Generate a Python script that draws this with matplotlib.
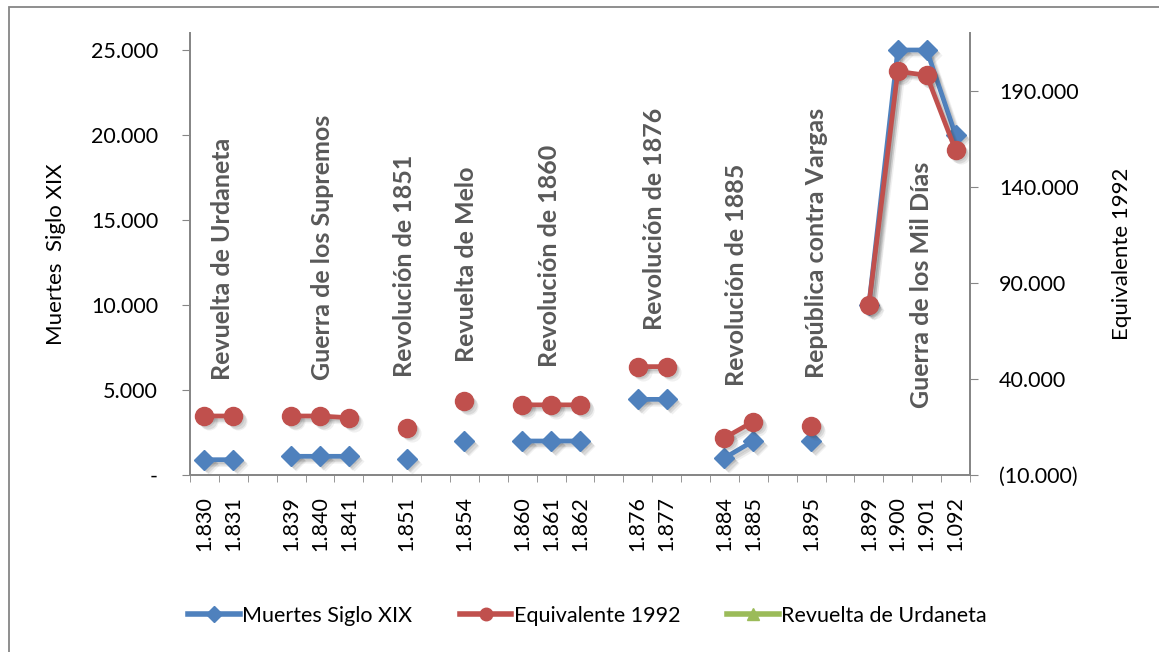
import numpy as np
import matplotlib
matplotlib.use("Agg")
import matplotlib.pyplot as plt
from matplotlib.lines import Line2D
from matplotlib.patches import Rectangle
from matplotlib.transforms import offset_copy
from matplotlib.ticker import FuncFormatter, FixedLocator

# categories ("" = empty slot between wars)
years = ["1.830", "1.831", "", "1.839", "1.840", "1.841", "", "1.851", "", "1.854", "",
         "1.860", "1.861", "1.862", "", "1.876", "1.877", "", "1.884", "1.885", "",
         "1.895", "", "1.899", "1.900", "1.901", "1.092"]

nan = np.nan
muertes = [900, 900, nan, 1100, 1100, 1100, nan, 950, nan, 2000, nan,
           2000, 2000, 2000, nan, 4450, 4450, nan, 1000, 2000, nan,
           2000, nan, 10000, 25000, 25000, 20000]
equivalente = [20700, 20700, nan, 20700, 20700, 19800, nan, 14600, nan, 28500, nan,
               26500, 26500, 26500, nan, 46400, 46400, nan, 9300, 17800, nan,
               15500, nan, 78500, 200000, 198000, 159000]

guerras = ["Revuelta de Urdaneta", "Guerra de los Supremos", "Revolución de 1851",
           "Revuelta de Melo", "Revolución de 1860", "Revolución de 1876",
           "Revolución de 1885", "República contra Vargas", "Guerra de los Mil Días"]
# where each war name sits (category position, left-axis value of its base)
guerra_x = [0.64, 4.07, 6.94, 9.08, 11.96, 15.59, 18.43, 21.2, 24.83]
guerra_y = [5590, 5590, 5760, 6650, 6350, 8530, 5240, 5710, 3940]

AZUL = "#4F81BD"
ROJO = "#C0504D"
VERDE = "#9BBB59"
GRIS = "#868686"
TEXTO = "#595959"

plt.rcParams["font.family"] = ["Lato", "DejaVu Sans"]

fig = plt.figure(figsize=(11.59, 6.52), dpi=100)
W, H = 1159, 652
ax = fig.add_axes([190 / W, 1 - 475 / H, 780 / W, 442 / H])
ax2 = ax.twinx()

x = np.arange(len(years))


def con_sombra(eje, y, color, marker, ms):
    # soft drop shadow: a few offset gray copies under the series
    for d, a in [(2, 0.12), (3.5, 0.12), (5, 0.08)]:
        tr = offset_copy(eje.transData, fig=fig, x=d, y=-d, units="dots")
        eje.plot(x, y, color="#404040", alpha=a, lw=3.4, marker=marker, ms=ms,
                 mec="none", transform=tr, zorder=1)
    eje.plot(x, y, color=color, lw=3.4, marker=marker, ms=ms, mec=color, zorder=3)


con_sombra(ax, muertes, AZUL, "D", 10.5)
con_sombra(ax2, equivalente, ROJO, "o", 13)

for nombre, gx, gy in zip(guerras, guerra_x, guerra_y):
    ax.text(gx, gy, nombre, rotation=90, ha="center", va="bottom",
            fontsize=18, fontweight="bold", color=TEXTO)

ax.set_xlim(-0.5, len(years) - 0.5)
ax.set_ylim(0, 26000)
ax2.set_ylim(-10000, 220000)

ax.set_xticks(x)
ax.set_xticklabels(years, rotation=90, fontsize=15.5)
ax.xaxis.set_minor_locator(FixedLocator(np.arange(-0.5, len(years), 1)))
ax.tick_params(axis="x", which="major", length=0, pad=15)
ax.tick_params(axis="x", which="minor", length=5, color=GRIS, direction="out")

ax.set_yticks(np.arange(0, 25001, 5000))
ax.yaxis.set_major_formatter(FuncFormatter(
    lambda v, p: "-" if v == 0 else f"{v:,.0f}".replace(",", ".")))
ax.tick_params(axis="y", length=6, color=GRIS, labelsize=15.5, pad=17)

ax2.set_yticks(np.arange(-10000, 190001, 50000))


def fmt_der(v, p):
    s = f"{abs(v):,.0f}".replace(",", ".")
    return f"({s})" if v < 0 else s


ax2.yaxis.set_major_formatter(FuncFormatter(fmt_der))
ax2.tick_params(axis="y", length=6, color=GRIS, labelsize=15.5, pad=15)

ax.set_ylabel("Muertes  Siglo XIX", fontsize=16, labelpad=18)
ax2.set_ylabel("Equivalente 1992", fontsize=16, labelpad=24)

for a in (ax, ax2):
    a.spines["top"].set_visible(False)
    for s in ("left", "right", "bottom"):
        a.spines[s].set_color(GRIS)
        a.spines[s].set_linewidth(1.3)

handles = [
    Line2D([], [], color=AZUL, lw=4, marker="D", ms=8, mec=AZUL),
    Line2D([], [], color=ROJO, lw=4, marker="o", ms=9, mec=ROJO),
    Line2D([], [], color=VERDE, lw=4, marker="^", ms=9, mec=VERDE),
]
fig.legend(handles, ["Muertes Siglo XIX", "Equivalente 1992", "Revuelta de Urdaneta"],
           loc="center", bbox_to_anchor=(0.507, 1 - 616 / H), ncol=3, frameon=False,
           handlelength=2.4, handletextpad=0.1, columnspacing=2.2,
           prop={"family": ["Lato", "DejaVu Sans"], "size": 15.5})

# chart frame
fig.add_artist(Rectangle((9 / W, -0.1), 1.2, 1 - 7 / H + 0.1, transform=fig.transFigure,
                         fill=False, edgecolor=GRIS, lw=1.3))

fig.savefig("out.png", dpi=100)
